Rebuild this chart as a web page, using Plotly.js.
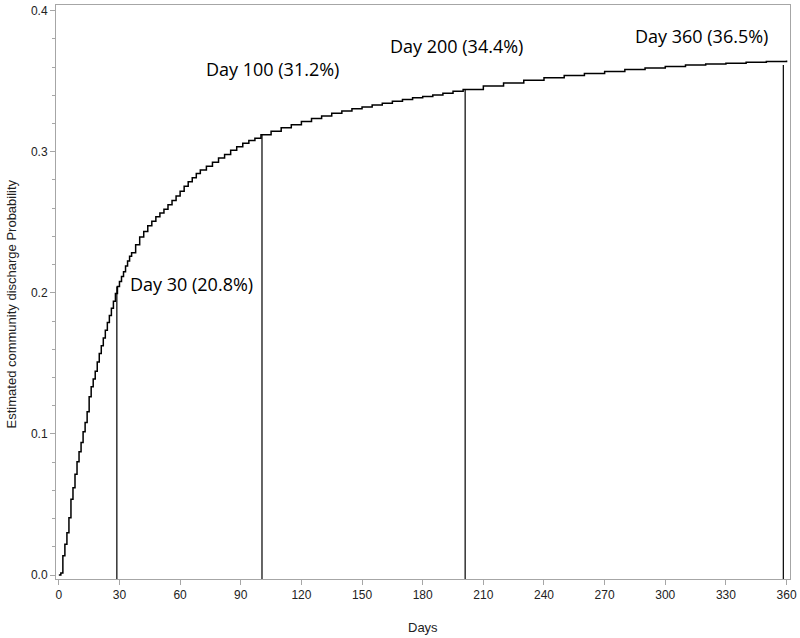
<!DOCTYPE html>
<html>
<head>
<meta charset="utf-8">
<script src="https://cdn.plot.ly/plotly-3.0.1.min.js"></script>
<style>
  html, body { margin: 0; padding: 0; background: #fff; }
  #chart { width: 800px; height: 638px; }
</style>
</head>
<body>
<div id="chart"></div>
<script>
// Cumulative probability curve (step function)
const days = [0, 1, 2, 3, 4, 5, 6, 7, 8, 9, 10, 11, 12, 13, 14, 15, 16,
    17, 18, 19, 20, 21, 22, 23, 24, 25, 26, 27, 28, 29, 30, 31, 32, 33, 34, 35,
    36, 38, 40, 42, 44, 46, 48, 50, 52, 54, 56, 58, 60, 62, 64, 66, 68, 70,
    73, 76, 79, 82, 85, 88, 91, 94, 97, 100,
    105, 110, 115, 120, 125, 130, 135, 140, 145, 150, 155, 160, 165, 170, 175, 180, 185, 190, 195, 200,
    210, 220, 230, 240, 250, 260, 270, 280, 290, 300, 310, 320, 330, 340, 350, 360];
const probability = [0.0, 0.0015, 0.0137, 0.0218, 0.030, 0.0406, 0.0537, 0.0619, 0.0714, 0.0803, 0.0874, 0.094, 0.1016, 0.1082, 0.1157, 0.1264, 0.1334,
    0.139, 0.1445, 0.151, 0.157, 0.1625, 0.168, 0.1735, 0.179, 0.184, 0.189, 0.194, 0.1995, 0.2045, 0.208, 0.2115, 0.215, 0.219, 0.2225, 0.226,
    0.2285, 0.234, 0.2395, 0.2435, 0.2475, 0.2507, 0.254, 0.2565, 0.2592, 0.2625, 0.2655, 0.2687, 0.272, 0.2755, 0.2788, 0.2815, 0.2845, 0.287,
    0.2897, 0.2925, 0.2955, 0.298, 0.301, 0.3035, 0.306, 0.308, 0.3095, 0.312,
    0.3145, 0.317, 0.3192, 0.3215, 0.3235, 0.3253, 0.3272, 0.3288, 0.3304, 0.3318, 0.3331, 0.3343, 0.3357, 0.3371, 0.3382, 0.3392, 0.3403, 0.3415, 0.3428, 0.3442,
    0.3466, 0.3488, 0.3506, 0.3524, 0.3541, 0.3555, 0.3569, 0.3582, 0.3594, 0.3604, 0.3614, 0.3621, 0.3628, 0.3634, 0.364, 0.3646];

// Reference drop lines and their labels
const markDays = [28.7, 100.5, 201, 358.4];
const markValues = [0.2045, 0.3118, 0.344, 0.3615];
const markLabels = ['Day 30 (20.8%)', 'Day 100 (31.2%)', 'Day 200 (34.4%)', 'Day 360 (36.5%)'];
const labelX = [34.1, 71.9, 163, 284];
const labelY = [0.206, 0.3586, 0.3753, 0.382];

// Axis ticks
const xTicks = [0, 30, 60, 90, 120, 150, 180, 210, 240, 270, 300, 330, 360];
const yTicks = [0.0, 0.1, 0.2, 0.3, 0.4];

const xRange = [-1.4, 361.7];
const yRange = [-0.0028, 0.404];

/**
 * Build the traces: the step curve plus one vertical line per marked day
 */
function buildTraces() {
    const traces = [{
        x: days,
        y: probability,
        type: 'scatter',
        mode: 'lines',
        line: { color: '#000', width: 1.5, shape: 'hv' },
        hoverinfo: 'skip'
    }];

    markDays.forEach((d, i) => {
        traces.push({
            x: [d, d],
            y: [yRange[0], markValues[i]],
            type: 'scatter',
            mode: 'lines',
            line: { color: '#000', width: 1.2 },
            hoverinfo: 'skip'
        });
    });
    return traces;
}

/**
 * Text labels next to each marked day, plus the axis titles
 */
function buildAnnotations() {
    const notes = markLabels.map((txt, i) => ({
        x: labelX[i],
        y: labelY[i],
        xref: 'x',
        yref: 'y',
        text: txt,
        showarrow: false,
        xanchor: 'left',
        yanchor: 'middle',
        font: { family: 'Open Sans, sans-serif', size: 18, color: '#000' }
    }));

    // Axis titles placed by hand to match the original layout
    notes.push({
        x: 0.5, y: -0.085, xref: 'paper', yref: 'paper',
        text: 'Days', showarrow: false,
        xanchor: 'center', yanchor: 'middle',
        font: { family: 'Liberation Sans, Arial, sans-serif', size: 13, color: '#222' }
    });
    notes.push({
        x: -0.06, y: 0.48, xref: 'paper', yref: 'paper',
        text: 'Estimated community discharge Probability', showarrow: false,
        textangle: -90, xanchor: 'center', yanchor: 'middle',
        font: { family: 'Liberation Sans, Arial, sans-serif', size: 13, color: '#222' }
    });
    return notes;
}

const axisCommon = {
    showgrid: false,
    zeroline: false,
    showline: true,
    mirror: true,
    linecolor: '#a6a6a6',
    linewidth: 1,
    ticks: 'outside',
    ticklen: 5,
    tickcolor: '#a6a6a6',
    tickfont: { family: 'Liberation Sans, Arial, sans-serif', size: 12, color: '#222' }
};

const layout = {
    width: 800,
    height: 638,
    margin: { l: 56, r: 10, t: 5, b: 59 },
    paper_bgcolor: '#fff',
    plot_bgcolor: '#fff',
    showlegend: false,
    xaxis: Object.assign({}, axisCommon, {
        range: xRange,
        tickvals: xTicks,
        ticktext: xTicks.map(String)
    }),
    yaxis: Object.assign({}, axisCommon, {
        range: yRange,
        tickvals: yTicks,
        ticktext: yTicks.map(v => v.toFixed(1)),
        minor: { dtick: 0.02, tick0: 0, ticks: 'outside', ticklen: 3, tickcolor: '#a6a6a6', showgrid: false }
    }),
    annotations: buildAnnotations()
};

Plotly.newPlot('chart', buildTraces(), layout, { displayModeBar: false, staticPlot: true });
</script>
</body>
</html>
